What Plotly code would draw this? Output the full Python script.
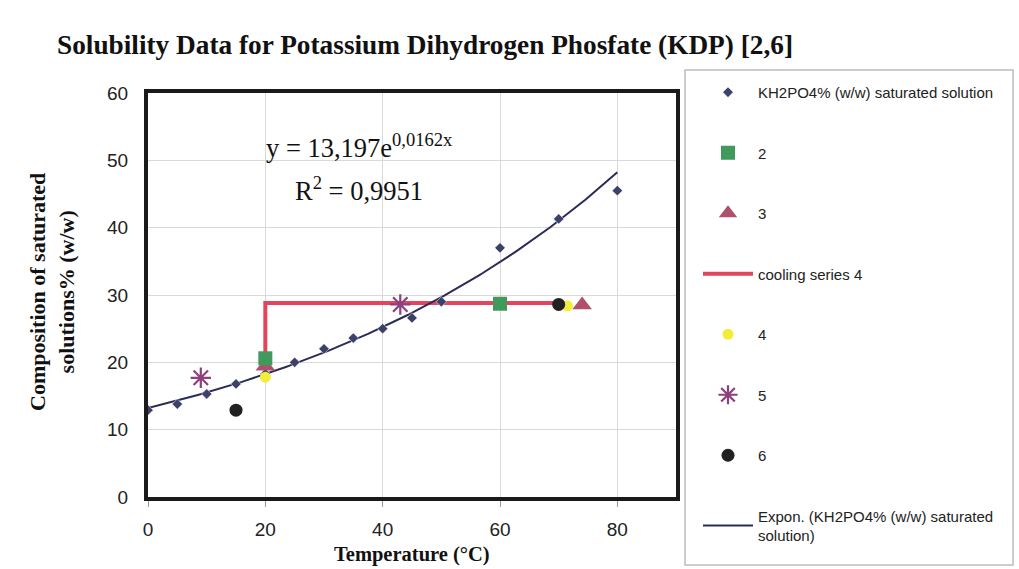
import numpy as np
import plotly.graph_objects as go

# ---- data ----
kdp_temp = [0, 5, 10, 15, 20, 25, 30, 35, 40, 45, 50, 60, 70, 80]
kdp_conc = [12.9, 13.8, 15.3, 16.8, 18.3, 20.0, 22.0, 23.6, 25.0, 26.6, 29.0, 37.0, 41.3, 45.5]

s2_x = [20, 60]
s2_y = [20.6, 28.7]
s3_x = [20, 74]
s3_y = [19.4, 28.5]
cool_x = [20, 20, 70]
cool_y = [20.6, 28.8, 28.8]
s4_x = [20, 71.5]
s4_y = [17.8, 28.4]
s5_x = [9, 43]
s5_y = [17.7, 28.6]
s6_x = [15, 70]
s6_y = [12.9, 28.6]

fit_a = 13.197
fit_b = 0.0162

x_ticks = [0, 20, 40, 60, 80]
y_ticks = [0, 10, 20, 30, 40, 50, 60]

serif = "Times New Roman, Liberation Serif, serif"
sans = "Arial, Liberation Sans, sans-serif"

fit_x = np.linspace(0, 80, 161)
fit_y = fit_a * np.exp(fit_b * fit_x)

# plot-area pixel geometry helpers (for paper coordinates)
L, R, T, B = 148, 676, 93, 497
PW, PH = R - L, B - T


def px(x):
    return (x - L) / PW


def py(y):
    return (B - y) / PH


fig = go.Figure()

fig.add_trace(go.Scatter(x=cool_x, y=cool_y, mode="lines", name="cooling series 4",
                         line=dict(color="#E3455D", width=4), legendrank=4, legendgroup="g4"))
fig.add_trace(go.Scatter(x=fit_x, y=fit_y, mode="lines",
                         name="Expon. (KH2PO4% (w/w) saturated<br>solution)",
                         line=dict(color="#2A2C55", width=2), legendrank=8, legendgroup="g8"))
fig.add_trace(go.Scatter(x=kdp_temp, y=kdp_conc, mode="markers",
                         name="KH2PO4% (w/w) saturated solution",
                         marker=dict(symbol="diamond", size=8, color="#3D4068",
                                     line=dict(color="white", width=0.5)),
                         legendrank=1, legendgroup="g1"))
fig.add_trace(go.Scatter(x=s3_x, y=s3_y, mode="markers", name="3",
                         marker=dict(symbol="triangle-up", size=17, color="#B0516B"),
                         legendrank=3, legendgroup="g3"))
fig.add_trace(go.Scatter(x=s4_x, y=s4_y, mode="markers", name="4",
                         marker=dict(symbol="circle", size=11, color="#F2EC3A"),
                         legendrank=5, legendgroup="g5"))
fig.add_trace(go.Scatter(x=s2_x, y=s2_y, mode="markers", name="2",
                         marker=dict(symbol="square", size=14, color="#3F9A5B"),
                         legendrank=2, legendgroup="g2"))
fig.add_trace(go.Scatter(x=s5_x, y=s5_y, mode="markers", name="5",
                         marker=dict(symbol="asterisk-open", size=17, color="#8E3F7E",
                                     line=dict(color="#8E3F7E", width=2.2)),
                         legendrank=6, legendgroup="g6"))
fig.add_trace(go.Scatter(x=s6_x, y=s6_y, mode="markers", name="6",
                         marker=dict(symbol="circle", size=13, color="#222222"),
                         legendrank=7, legendgroup="g7"))

fig.update_layout(
    width=1019, height=569,
    margin=dict(l=L, r=1019 - R, t=T, b=569 - B),
    paper_bgcolor="white", plot_bgcolor="white",
    showlegend=True,
    legend=dict(x=px(698), xanchor="left", y=py(76), yanchor="top",
                font=dict(family=sans, size=15, color="#222"),
                tracegroupgap=38, itemwidth=50, bgcolor="rgba(0,0,0,0)",
                borderwidth=0, maxheight=560),
    xaxis=dict(range=[0, 90], tickvals=x_ticks, showgrid=True, gridcolor="#D9D9D9",
               gridwidth=1, zeroline=False, showline=True, mirror=True,
               linecolor="#1a1a1a", linewidth=4, ticks="outside", ticklen=6,
               tickcolor="#999", tickfont=dict(family=sans, size=19, color="#222"),
               ticklabelstandoff=6),
    yaxis=dict(range=[0, 60], tickvals=y_ticks, showgrid=True, gridcolor="#D9D9D9",
               gridwidth=1, zeroline=False, showline=True, mirror=True,
               linecolor="#1a1a1a", linewidth=4, ticks="",
               tickfont=dict(family=sans, size=19, color="#222"),
               ticklabelstandoff=12),
)

# legend box
fig.add_shape(type="rect", xref="paper", yref="paper",
              x0=px(685), x1=px(1013), y0=py(565), y1=py(70),
              line=dict(color="#BDBDBD", width=1.5), fillcolor="rgba(0,0,0,0)")

# title
fig.add_annotation(text="<b>Solubility Data for Potassium Dihydrogen Phosfate (KDP) [2,6]</b>",
                   xref="paper", yref="paper", x=px(55), y=py(45),
                   xanchor="left", yanchor="middle", showarrow=False,
                   font=dict(family=serif, size=27.3, color="#111"))
# axis titles
fig.add_annotation(text="<b>Temperature (°C)</b>", xref="paper", yref="paper",
                   x=px(412), y=py(554), showarrow=False,
                   xanchor="center", yanchor="middle",
                   font=dict(family=serif, size=20.5, color="#111"))
fig.add_annotation(text="<b>Composition of saturated<br>solutions% (w/w)</b>",
                   xref="paper", yref="paper", x=px(52), y=py(292),
                   showarrow=False, textangle=-90, xanchor="center", yanchor="middle",
                   font=dict(family=serif, size=22, color="#111"))
# equation
fig.add_annotation(text="y = 13,197e<sup>0,0162x</sup>", x=19.7, y=52.1, xanchor="left",
                   yanchor="middle", showarrow=False,
                   font=dict(family=serif, size=26.5, color="#111"))
fig.add_annotation(text="R<sup>2</sup> = 0,9951", x=24.8, y=45.8, xanchor="left",
                   yanchor="middle", showarrow=False,
                   font=dict(family=serif, size=26.5, color="#111"))

fig.write_html("out.html", config={"displayModeBar": False},
               post_script="document.body.style.margin='0px';")
